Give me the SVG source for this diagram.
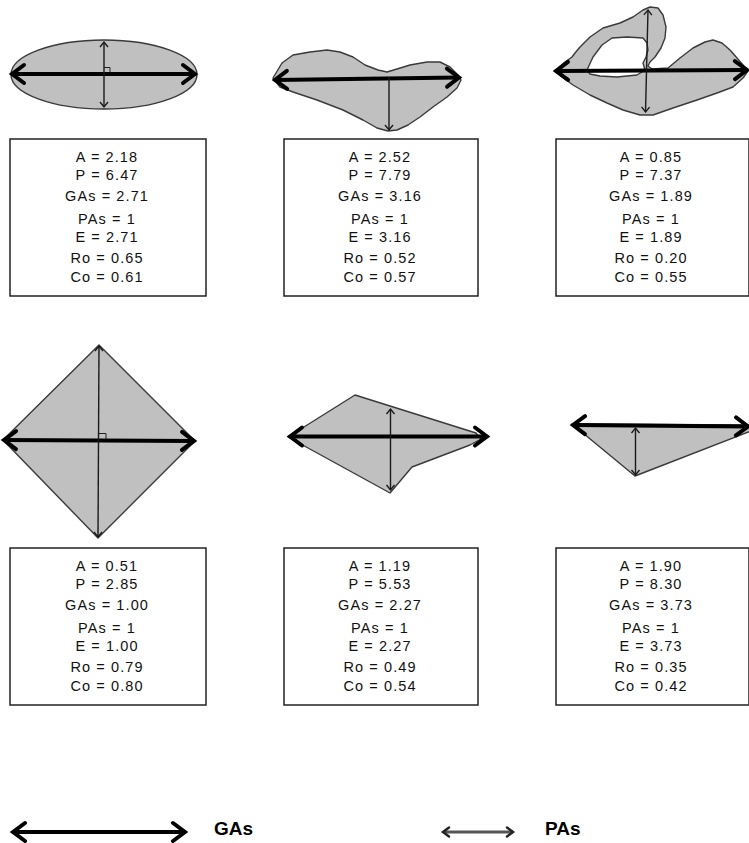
<svg xmlns="http://www.w3.org/2000/svg" width="749" height="843" viewBox="0 0 749 843">
<style>
.shape{fill:#c0c0c0;stroke:#3a3a3a;stroke-width:1.4;stroke-linejoin:round}
.box{fill:#fff;stroke:#222;stroke-width:1.5}
.ga{fill:none;stroke:#000;stroke-width:4;marker-start:url(#mga);marker-end:url(#mga)}
.pa{fill:none;stroke:#1a1a1a;stroke-width:1.4;marker-start:url(#mpa);marker-end:url(#mpa)}
.pa1{fill:none;stroke:#1a1a1a;stroke-width:1.4;marker-end:url(#mpa)}
.ra{fill:none;stroke:#222;stroke-width:1}
.t{font-family:"Liberation Sans",Arial,sans-serif;font-size:14.5px;letter-spacing:1.1px;fill:#111;text-anchor:middle}
.lg{font-family:"Liberation Sans",Arial,sans-serif;font-size:19px;font-weight:bold;fill:#000}
</style>
<defs>
<marker id="mga" markerUnits="userSpaceOnUse" markerWidth="30" markerHeight="30" viewBox="-15 -15 30 30" refX="0" refY="0" orient="auto-start-reverse" overflow="visible">
<path d="M-12,-9 L0,0 L-12,9" fill="none" stroke="#000" stroke-width="4" stroke-linecap="round"/>
</marker>
<marker id="mpa" markerUnits="userSpaceOnUse" markerWidth="14" markerHeight="14" viewBox="-7 -7 14 14" refX="0" refY="0" orient="auto-start-reverse" overflow="visible">
<path d="M-5,-4 L0,0 L-5,4" fill="none" stroke="#1a1a1a" stroke-width="1.4"/>
</marker>
<marker id="mpal" markerUnits="userSpaceOnUse" markerWidth="20" markerHeight="20" viewBox="-10 -10 20 20" refX="0" refY="0" orient="auto-start-reverse" overflow="visible">
<path d="M-6,-4.5 L0,0 L-6,4.5" fill="none" stroke="#222" stroke-width="2.5" stroke-linecap="round"/>
</marker>
</defs>

<g id="shape1">
<ellipse class="shape" cx="104" cy="74.5" rx="93" ry="34.5"/>
<path class="ra" d="M104,67.5 H110 V74"/>
</g>
<g id="shape2">
<path class="shape" d="M273,78 L282,63 L293,55 L310,52 L327,50 L340,52 L353,57 L365,65 L378,70 L387,72 L397,69 L410,65 L427,62 L440,62 L450,67 L458,75 L461,80 L457,88 L447,97 L433,107 L420,117 L408,125 L397,130 L388,131 L377,128 L363,120 L343,110 L317,100 L293,92 L280,87 Z"/>
</g>
<g id="shape3">
<path class="shape" fill-rule="evenodd" d="M555,71 L565,62 L572,57 L575,53 L580,47 L590,37 L603,28 L620,23 L633,17 L643,10 L650,7 L658,8 L663,15 L666,27 L665,38 L661,48 L655,57 L650,62 L648,66 L652,69 L668,68 L680,58 L693,48 L705,42 L713,40 L722,43 L730,50 L737,58 L743,65 L748,71 L743,78 L733,87 L717,93 L697,100 L673,108 L653,115 L640,115 L623,110 L607,103 L590,95 L573,85 L562,77 Z M587,70 L593,57 L602,45 L612,38 L627,37 L643,38 L647,43 L648,50 L646,57 L643,63 L645,70 L637,75 L617,77 L600,76 L590,74 Z"/>
</g>
<g id="shape4">
<polygon class="shape" points="99,345 195,441 98,538 3,440"/>
<path class="ra" d="M99,433.5 H106 V440.5"/>
</g>
<g id="shape5">
<polygon class="shape" points="288,437 355,395 476,433 481,439 470,445 412,467 390,493"/>
</g>
<g id="shape6">
<polygon class="shape" points="572,424 751,425 751,431 635,476"/>
</g>

<g id="axes">
<line class="ga" x1="12" y1="74" x2="195" y2="74"/>
<line class="pa" x1="104" y1="42" x2="104" y2="107"/>
<line class="ga" x1="275" y1="80" x2="459" y2="77.5"/>
<line class="pa1" x1="389" y1="77" x2="389" y2="130"/>
<line class="ga" x1="556" y1="71" x2="747" y2="70"/>
<line class="pa" x1="648" y1="10" x2="645.5" y2="112"/>
<line class="ga" x1="4" y1="440" x2="194" y2="441"/>
<line class="pa" x1="99" y1="346" x2="98" y2="537"/>
<line class="ga" x1="290" y1="436.5" x2="487" y2="436.5"/>
<line class="pa" x1="390.5" y1="409" x2="390.5" y2="490"/>
<line class="ga" x1="573" y1="425" x2="748" y2="426.5"/>
<line class="pa" x1="635.5" y1="428" x2="635.5" y2="475"/>
</g>

<g id="box1">
<rect class="box" x="10" y="139" width="196" height="157"/>
<text class="t" x="107" y="162">A = 2.18</text>
<text class="t" x="107" y="180">P = 6.47</text>
<text class="t" x="107" y="200.5">GAs = 2.71</text>
<text class="t" x="107" y="224">PAs = 1</text>
<text class="t" x="107" y="241.5">E = 2.71</text>
<text class="t" x="107" y="263">Ro = 0.65</text>
<text class="t" x="107" y="281.5">Co = 0.61</text>
</g>
<g id="box2">
<rect class="box" x="284" y="139" width="194" height="157"/>
<text class="t" x="380" y="162">A = 2.52</text>
<text class="t" x="380" y="180">P = 7.79</text>
<text class="t" x="380" y="200.5">GAs = 3.16</text>
<text class="t" x="380" y="224">PAs = 1</text>
<text class="t" x="380" y="241.5">E = 3.16</text>
<text class="t" x="380" y="263">Ro = 0.52</text>
<text class="t" x="380" y="281.5">Co = 0.57</text>
</g>
<g id="box3">
<rect class="box" x="556" y="139" width="193" height="157"/>
<text class="t" x="651" y="162">A = 0.85</text>
<text class="t" x="651" y="180">P = 7.37</text>
<text class="t" x="651" y="200.5">GAs = 1.89</text>
<text class="t" x="651" y="224">PAs = 1</text>
<text class="t" x="651" y="241.5">E = 1.89</text>
<text class="t" x="651" y="263">Ro = 0.20</text>
<text class="t" x="651" y="281.5">Co = 0.55</text>
</g>
<g id="box4">
<rect class="box" x="10" y="548" width="196" height="157"/>
<text class="t" x="107" y="571">A = 0.51</text>
<text class="t" x="107" y="589">P = 2.85</text>
<text class="t" x="107" y="609.5">GAs = 1.00</text>
<text class="t" x="107" y="633">PAs = 1</text>
<text class="t" x="107" y="650.5">E = 1.00</text>
<text class="t" x="107" y="672">Ro = 0.79</text>
<text class="t" x="107" y="690.5">Co = 0.80</text>
</g>
<g id="box5">
<rect class="box" x="284" y="548" width="194" height="157"/>
<text class="t" x="380" y="571">A = 1.19</text>
<text class="t" x="380" y="589">P = 5.53</text>
<text class="t" x="380" y="609.5">GAs = 2.27</text>
<text class="t" x="380" y="633">PAs = 1</text>
<text class="t" x="380" y="650.5">E = 2.27</text>
<text class="t" x="380" y="672">Ro = 0.49</text>
<text class="t" x="380" y="690.5">Co = 0.54</text>
</g>
<g id="box6">
<rect class="box" x="556" y="548" width="193" height="157"/>
<text class="t" x="651" y="571">A = 1.90</text>
<text class="t" x="651" y="589">P = 8.30</text>
<text class="t" x="651" y="609.5">GAs = 3.73</text>
<text class="t" x="651" y="633">PAs = 1</text>
<text class="t" x="651" y="650.5">E = 3.73</text>
<text class="t" x="651" y="672">Ro = 0.35</text>
<text class="t" x="651" y="690.5">Co = 0.42</text>
</g>

<g id="legend">
<line class="ga" x1="13" y1="832" x2="185" y2="832"/>
<text class="lg" x="214" y="835">GAs</text>
<line x1="443" y1="832" x2="513" y2="832" stroke="#555" stroke-width="3" marker-start="url(#mpal)" marker-end="url(#mpal)"/>
<text class="lg" x="545" y="835">PAs</text>
</g>
</svg>
